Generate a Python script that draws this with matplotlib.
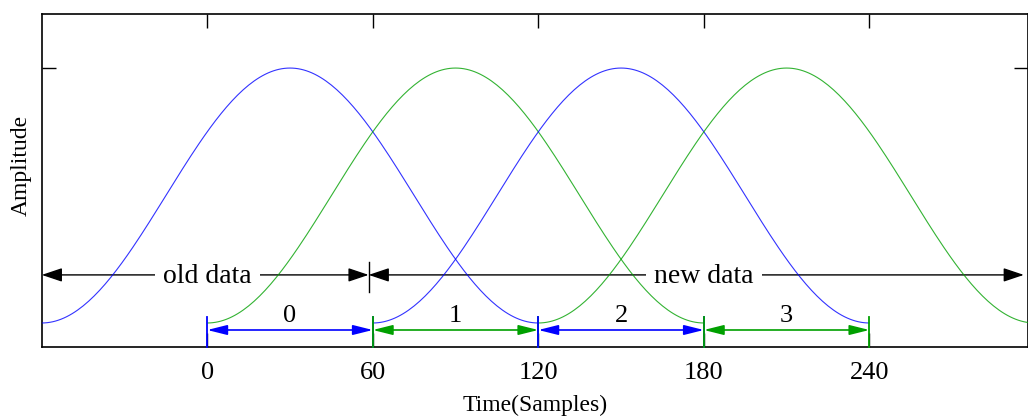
import numpy as np
import matplotlib
matplotlib.use("Agg")
import matplotlib.pyplot as plt

# ---- data ----
window_starts = [-60, 0, 60, 120]          # start sample of each Hann window
window_length = 180                        # samples per window
window_colors = ["#0000ff", "#00a000", "#0000ff", "#00a000"]
segment_edges = [0, 60, 120, 180, 240]     # hop segments
segment_labels = ["0", "1", "2", "3"]
segment_colors = ["#0000ff", "#00a000", "#0000ff", "#00a000"]
xticks = [0, 60, 120, 180, 240]
old_new_split = 58.5
old_label_x, new_label_x = 0, 180
arrow_left, arrow_right = -60, 296

plt.rcParams['font.family'] = ['Liberation Serif', 'DejaVu Serif']

fig = plt.figure(figsize=(10.28, 4.17), dpi=100)
ax = fig.add_axes([0.0406, 0.1686, 0.9594, 0.7978])
ax.set_xlim(-60, 297.5)
ax.set_ylim(-0.093, 1.212)

# windows
hann = np.hanning(window_length + 1)
for s, c in zip(window_starts, window_colors):
    t = np.arange(window_length + 1) + s
    ax.plot(t, hann, color=c, lw=0.8, alpha=0.8, zorder=3, solid_capstyle='butt')

# hop segment arrows
y_seg = -0.0275
for i, lab in enumerate(segment_labels):
    a, b = segment_edges[i], segment_edges[i + 1]
    c = segment_colors[i]
    ax.annotate('', xy=(a, y_seg), xytext=(b, y_seg),
                arrowprops=dict(arrowstyle='<|-|>,head_length=1.2,head_width=0.3',
                                mutation_scale=10, color=c, lw=1.2,
                                shrinkA=0, shrinkB=0), zorder=4)
    ax.plot([a, a], [0.025, -0.093], color=c, lw=1.3, zorder=4, clip_on=False)
    ax.plot([b, b], [0.025, -0.093], color=c, lw=1.3, zorder=4, clip_on=False)
    ax.text((a + b) / 2, 0.005, lab, ha='center', va='baseline', fontsize=19, zorder=5)

# old / new data arrows
y_on = 0.1886
akw = dict(arrowstyle='<|-|>,head_length=1.25,head_width=0.42', mutation_scale=10,
           color='black', lw=1.0, shrinkA=0, shrinkB=0)
ax.annotate('', xy=(arrow_left, y_on), xytext=(old_new_split, y_on), arrowprops=akw, zorder=2)
ax.annotate('', xy=(old_new_split, y_on), xytext=(arrow_right, y_on), arrowprops=akw, zorder=2)
ax.plot([old_new_split, old_new_split], [0.123, 0.241], color='black', lw=1.0, zorder=2)
bb = dict(facecolor='white', edgecolor='none', pad=6)
ax.text(old_label_x, 0.158, 'old data', ha='center', va='baseline', fontsize=20,
        bbox=bb, zorder=2.5)
ax.text(new_label_x, 0.158, 'new data', ha='center', va='baseline', fontsize=20,
        bbox=bb, zorder=2.5)

# axes styling
ax.set_xticks(xticks)
ax.set_xticklabels([str(v) for v in xticks], fontsize=19)
ax.set_yticks([1.0])
ax.set_yticklabels([])
ax.tick_params(direction='in', length=10, width=1.0, top=True, right=True, pad=11)
for sp in ax.spines.values():
    sp.set_linewidth(1.2)
ax.set_xlabel('Time(Samples)', fontsize=17, labelpad=8)
ax.set_ylabel('Amplitude', fontsize=17)
ax.yaxis.set_label_coords(-0.01, 0.546)

fig.savefig('out.png', dpi=100)
